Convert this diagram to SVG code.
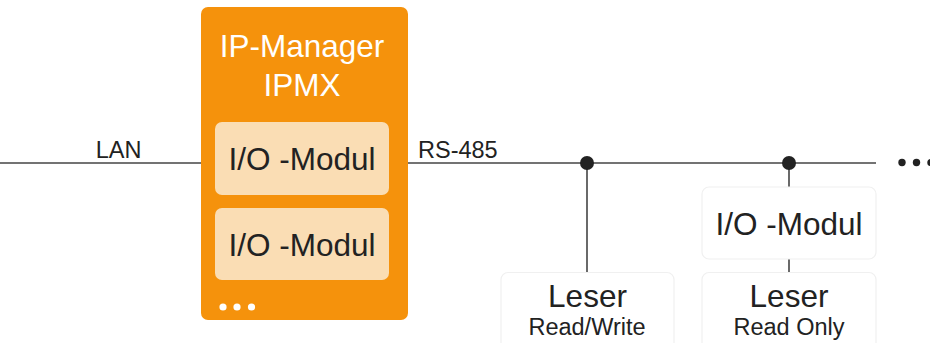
<svg xmlns="http://www.w3.org/2000/svg" width="930" height="343" viewBox="0 0 930 343">
<style>
text{font-family:"Liberation Sans",Arial,sans-serif;fill:#222}
.big{font-size:31.5px}
.lbl{font-size:23.5px}
.small{font-size:23.5px}
.title{font-size:31.5px;fill:#fff}
.wire{stroke:#444;stroke-width:1.6;fill:none}
.mod{fill:#FADDB4}
.card{fill:#fff;stroke:#f0f0f0;stroke-width:1.2}
</style>
<rect width="930" height="343" fill="#fff"/>
<g id="connectors">
<line class="wire" x1="0" y1="163" x2="201" y2="163"/>
<line class="wire" x1="408" y1="163" x2="876" y2="163"/>
<line class="wire" x1="587" y1="163" x2="587" y2="272"/>
<line class="wire" x1="789" y1="163" x2="789" y2="187"/>
<line class="wire" x1="789" y1="259" x2="789" y2="272"/>
<circle cx="587" cy="163" r="7" fill="#222"/>
<circle cx="789" cy="163" r="7" fill="#222"/>
<text class="lbl" x="118.5" y="158" text-anchor="middle">LAN</text>
<text class="lbl" x="418" y="158">RS-485</text>
</g>
<g id="ipmx">
<rect x="201" y="7" width="207" height="313" rx="7" fill="#F5920C"/>
<text class="title" x="302" y="57" text-anchor="middle">IP-Manager</text>
<text class="title" x="302" y="96" text-anchor="middle">IPMX</text>
<g id="io1">
<rect class="mod" x="215" y="122" width="174" height="73" rx="7"/>
<text class="big" x="302" y="170" text-anchor="middle">I/O -Modul</text>
</g>
<g id="io2">
<rect class="mod" x="215" y="208" width="174" height="72" rx="7"/>
<text class="big" x="302" y="256" text-anchor="middle">I/O -Modul</text>
</g>
<circle cx="223" cy="307" r="3.6" fill="#fff"/>
<circle cx="237" cy="307" r="3.6" fill="#fff"/>
<circle cx="251.5" cy="307" r="3.6" fill="#fff"/>
</g>
<g id="leser-rw">
<rect class="card" x="501" y="272.5" width="173" height="90" rx="7"/>
<text class="big" x="587.5" y="307" text-anchor="middle">Leser</text>
<text class="small" x="587" y="335" text-anchor="middle">Read/Write</text>
</g>
<g id="io-remote">
<rect class="card" x="702" y="187" width="174" height="72" rx="7"/>
<text class="big" x="789" y="235" text-anchor="middle">I/O -Modul</text>
</g>
<g id="leser-ro">
<rect class="card" x="702" y="272.5" width="174" height="90" rx="7"/>
<text class="big" x="789" y="307" text-anchor="middle">Leser</text>
<text class="small" x="789" y="335" text-anchor="middle">Read Only</text>
</g>
<g id="more">
<circle cx="902" cy="162.5" r="3.7" fill="#222"/>
<circle cx="916.5" cy="162.5" r="3.7" fill="#222"/>
<circle cx="931" cy="162.5" r="3.7" fill="#222"/>
</g>
</svg>
